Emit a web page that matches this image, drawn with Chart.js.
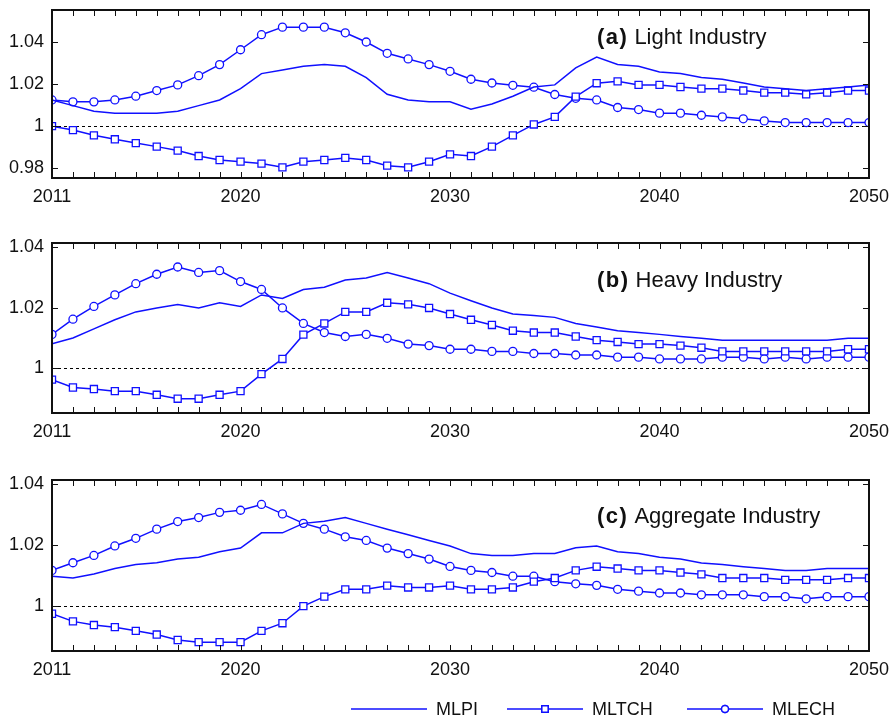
<!DOCTYPE html>
<html>
<head>
<meta charset="utf-8">
<title>MLPI / MLTCH / MLECH</title>
<script src="https://cdn.jsdelivr.net/npm/chart.js@4.4.1/dist/chart.umd.min.js"></script>
<style>
  body { margin: 0; background: #fff; }
  #wrap { position: relative; width: 896px; height: 721px; }
  canvas { position: absolute; left: 0; }
</style>
</head>
<body>
<div id="wrap">
  <canvas id="chartA" width="896" height="208" style="top:0px"></canvas>
  <canvas id="chartB" width="896" height="211" style="top:232px"></canvas>
  <canvas id="chartC" width="896" height="251" style="top:470px"></canvas>
</div>
<script>
var years = [2011, 2012, 2013, 2014, 2015, 2016, 2017, 2018, 2019, 2020,
             2021, 2022, 2023, 2024, 2025, 2026, 2027, 2028, 2029, 2030,
             2031, 2032, 2033, 2034, 2035, 2036, 2037, 2038, 2039, 2040,
             2041, 2042, 2043, 2044, 2045, 2046, 2047, 2048, 2049, 2050];
var xTickYears = [2011, 2020, 2030, 2040, 2050];
var yTicksLight = [0.98, 1, 1.02, 1.04];
var yTicksOther = [1, 1.02, 1.04];

// (a) Light Industry
var lightMLPI = [1.0125, 1.0098, 1.0071, 1.0062, 1.0062, 1.0062, 1.0071, 1.0098, 1.0125, 1.0179,
                 1.0251, 1.0268, 1.0286, 1.0295, 1.0286, 1.0232, 1.0152, 1.0125, 1.0116, 1.0116,
                 1.0081, 1.0106, 1.0143, 1.0187, 1.0197, 1.0278, 1.0330, 1.0295, 1.0286, 1.0259,
                 1.0251, 1.0232, 1.0224, 1.0206, 1.0187, 1.0179, 1.0170, 1.0179, 1.0187, 1.0197];
var lightMLTCH = [1.0000, 0.9981, 0.9956, 0.9937, 0.9919, 0.9902, 0.9883, 0.9857, 0.9838, 0.9830,
                  0.9821, 0.9803, 0.9830, 0.9838, 0.9848, 0.9838, 0.9811, 0.9803, 0.9830, 0.9865,
                  0.9857, 0.9902, 0.9956, 1.0008, 1.0044, 1.0141, 1.0205, 1.0214, 1.0197, 1.0197,
                  1.0187, 1.0179, 1.0179, 1.0170, 1.0160, 1.0160, 1.0152, 1.0160, 1.0170, 1.0170];
var lightMLECH = [1.0125, 1.0116, 1.0116, 1.0125, 1.0143, 1.0170, 1.0197, 1.0241, 1.0294, 1.0365,
                  1.0437, 1.0473, 1.0473, 1.0473, 1.0446, 1.0402, 1.0348, 1.0321, 1.0294, 1.0262,
                  1.0224, 1.0206, 1.0195, 1.0186, 1.0151, 1.0133, 1.0125, 1.0089, 1.0079, 1.0062,
                  1.0062, 1.0052, 1.0044, 1.0035, 1.0025, 1.0017, 1.0017, 1.0017, 1.0017, 1.0017];

// (b) Heavy Industry
var heavyMLPI = [1.0081, 1.0100, 1.0130, 1.0160, 1.0186, 1.0199, 1.0210, 1.0199, 1.0216, 1.0204,
                 1.0242, 1.0230, 1.0260, 1.0267, 1.0291, 1.0298, 1.0316, 1.0298, 1.0279, 1.0248,
                 1.0223, 1.0199, 1.0179, 1.0174, 1.0168, 1.0148, 1.0136, 1.0124, 1.0118, 1.0112,
                 1.0105, 1.0099, 1.0093, 1.0093, 1.0093, 1.0093, 1.0093, 1.0093, 1.0099, 1.0099];
var heavyMLTCH = [0.9963, 0.9937, 0.9932, 0.9925, 0.9925, 0.9913, 0.9900, 0.9900, 0.9913, 0.9925,
                  0.9981, 1.0031, 1.0111, 1.0148, 1.0186, 1.0186, 1.0216, 1.0211, 1.0199, 1.0179,
                  1.0160, 1.0143, 1.0124, 1.0118, 1.0118, 1.0105, 1.0093, 1.0087, 1.0080, 1.0080,
                  1.0075, 1.0068, 1.0056, 1.0056, 1.0056, 1.0056, 1.0056, 1.0056, 1.0063, 1.0063];
var heavyMLECH = [1.0112, 1.0162, 1.0204, 1.0242, 1.0279, 1.0310, 1.0334, 1.0316, 1.0322, 1.0286,
                  1.0260, 1.0199, 1.0148, 1.0118, 1.0105, 1.0112, 1.0099, 1.0080, 1.0075, 1.0063,
                  1.0063, 1.0056, 1.0056, 1.0049, 1.0049, 1.0044, 1.0044, 1.0037, 1.0037, 1.0031,
                  1.0031, 1.0031, 1.0037, 1.0037, 1.0031, 1.0037, 1.0031, 1.0037, 1.0037, 1.0037];

// (c) Aggregate Industry
var aggMLPI = [1.0098, 1.0092, 1.0105, 1.0123, 1.0136, 1.0142, 1.0154, 1.0160, 1.0178, 1.0190,
               1.0240, 1.0240, 1.0271, 1.0278, 1.0290, 1.0271, 1.0252, 1.0234, 1.0215, 1.0197,
               1.0172, 1.0166, 1.0166, 1.0172, 1.0172, 1.0191, 1.0197, 1.0178, 1.0172, 1.0160,
               1.0154, 1.0141, 1.0136, 1.0129, 1.0123, 1.0117, 1.0117, 1.0123, 1.0123, 1.0123];
var aggMLTCH = [0.9975, 0.9950, 0.9938, 0.9931, 0.9919, 0.9907, 0.9889, 0.9882, 0.9882, 0.9882,
                0.9919, 0.9944, 1.0000, 1.0031, 1.0055, 1.0055, 1.0067, 1.0061, 1.0061, 1.0067,
                1.0055, 1.0055, 1.0061, 1.0080, 1.0092, 1.0117, 1.0129, 1.0123, 1.0117, 1.0117,
                1.0110, 1.0104, 1.0092, 1.0092, 1.0092, 1.0086, 1.0086, 1.0086, 1.0092, 1.0092];
var aggMLECH = [1.0117, 1.0142, 1.0166, 1.0197, 1.0222, 1.0252, 1.0277, 1.0290, 1.0307, 1.0314,
                1.0333, 1.0302, 1.0271, 1.0252, 1.0227, 1.0215, 1.0190, 1.0172, 1.0154, 1.0130,
                1.0117, 1.0110, 1.0098, 1.0098, 1.0080, 1.0073, 1.0068, 1.0055, 1.0049, 1.0043,
                1.0043, 1.0037, 1.0037, 1.0037, 1.0031, 1.0031, 1.0024, 1.0031, 1.0031, 1.0031];

var seriesNames = ['MLPI', 'MLTCH', 'MLECH'];
var BLUE = '#1010ff';
var FONT = '"Liberation Sans", Arial, Helvetica, sans-serif';

function toPoints(vals) {
  var pts = [];
  for (var i in years) {
    pts.push({ x: years[i], y: vals[i] });
  }
  return pts;
}

// frame, inward ticks, dashed reference line, panel title, legend
var panelDecor = {
  id: 'panelDecor',
  beforeDatasetsDraw: function(chart) {
    var ctx = chart.ctx, a = chart.chartArea;
    var y1 = Math.round(chart.scales.y.getPixelForValue(1)) + 0.5;
    ctx.save();
    ctx.strokeStyle = '#000';
    ctx.lineWidth = 1;
    ctx.setLineDash([3, 3]);
    ctx.beginPath();
    ctx.moveTo(a.left, y1);
    ctx.lineTo(a.right, y1);
    ctx.stroke();
    ctx.restore();
  },
  afterDraw: function(chart, args, opts) {
    var ctx = chart.ctx, a = chart.chartArea;
    var xs = chart.scales.x, ys = chart.scales.y;
    ctx.save();
    ctx.strokeStyle = '#111';
    ctx.lineWidth = 1;
    ctx.beginPath();
    for (var i in years) {
      var px = Math.round(xs.getPixelForValue(years[i])) + 0.5;
      ctx.moveTo(px, a.bottom); ctx.lineTo(px, a.bottom - 6);
      ctx.moveTo(px, a.top); ctx.lineTo(px, a.top + 6);
    }
    ys.ticks.forEach(function(t) {
      var py = Math.round(ys.getPixelForValue(t.value)) + 0.5;
      ctx.moveTo(a.left, py); ctx.lineTo(a.left + 6, py);
      ctx.moveTo(a.right, py); ctx.lineTo(a.right - 6, py);
    });
    ctx.stroke();
    ctx.lineWidth = 2;
    ctx.strokeRect(a.left, a.top, a.right - a.left, a.bottom - a.top);

    // panel title: bold tag then plain text
    ctx.fillStyle = '#111';
    ctx.textBaseline = 'alphabetic';
    ctx.textAlign = 'left';
    ctx.font = 'bold 22px ' + FONT;
    ctx.letterSpacing = '1.5px';
    var tx = 597, ty = a.top + opts.titleOffset;
    ctx.fillText(opts.tag, tx, ty);
    var w = ctx.measureText(opts.tag).width;
    ctx.letterSpacing = '0px';
    ctx.font = '22px ' + FONT;
    ctx.fillText(opts.title, tx + w + 6, ty);

    // legend (bottom panel only)
    if (opts.legend) {
      var ly = opts.legendY;
      var items = [
        { x: 351, style: false },
        { x: 507, style: 'rect' },
        { x: 687, style: 'circle' }
      ];
      ctx.font = '18px ' + FONT;
      ctx.textBaseline = 'middle';
      items.forEach(function(it, k) {
        ctx.strokeStyle = BLUE;
        ctx.lineWidth = 1.5;
        ctx.beginPath();
        ctx.moveTo(it.x, ly); ctx.lineTo(it.x + 76, ly);
        ctx.stroke();
        if (it.style) {
          ctx.fillStyle = '#fff';
          Chart.helpers.drawPoint(ctx, { pointStyle: it.style, radius: it.style === 'rect' ? 4.5 : 3.5, borderWidth: 1.5 }, it.x + 38, ly);
          ctx.fill();
          ctx.stroke();
        }
        ctx.fillStyle = '#111';
        ctx.fillText(seriesNames[k], it.x + 85, ly + 1);
      });
    }
    ctx.restore();
  }
};

function makePanel(id, vals, yMin, yMax, yTicks, tag, title, titleOffset, pad, legend) {
  var datasets = [
    { label: seriesNames[0], data: toPoints(vals[0]), pointRadius: 0 },
    { label: seriesNames[1], data: toPoints(vals[1]), pointStyle: 'rect', pointRadius: 5 },
    { label: seriesNames[2], data: toPoints(vals[2]), pointStyle: 'circle', pointRadius: 4 }
  ];
  datasets.forEach(function(d) {
    d.borderColor = BLUE;
    d.backgroundColor = '#fff';
    d.borderWidth = 1.5;
    d.pointBorderWidth = 1.3;
    d.pointBorderColor = BLUE;
    d.pointBackgroundColor = '#fff';
    d.tension = 0;
  });

  return new Chart(document.getElementById(id), {
    type: 'line',
    data: { datasets: datasets },
    options: {
      responsive: false,
      animation: false,
      devicePixelRatio: 1,
      layout: { padding: pad },
      plugins: {
        legend: { display: false },
        tooltip: { enabled: false },
        panelDecor: { tag: tag, title: title, titleOffset: titleOffset, legend: legend, legendY: 239 }
      },
      scales: {
        x: {
          type: 'linear',
          min: 2011,
          max: 2050,
          afterBuildTicks: function(scale) {
            scale.ticks = xTickYears.map(function(v) { return { value: v }; });
          },
          afterFit: function(scale) {
            scale.height = 30;
            scale.paddingLeft = 0;
            scale.paddingRight = 0;
          },
          grid: { display: false, drawTicks: false },
          border: { display: false },
          ticks: {
            padding: 8,
            color: '#111',
            font: { family: FONT, size: 18 },
            maxRotation: 0,
            autoSkip: false,
            callback: function(v) { return String(v); }
          }
        },
        y: {
          min: yMin,
          max: yMax,
          afterBuildTicks: function(scale) {
            scale.ticks = yTicks.map(function(v) { return { value: v }; });
          },
          afterFit: function(scale) {
            scale.width = 52;
            scale.paddingTop = 0;
            scale.paddingBottom = 0;
          },
          grid: { display: false, drawTicks: false },
          border: { display: false },
          ticks: {
            padding: 8,
            color: '#111',
            font: { family: FONT, size: 18 },
            callback: function(v) { return v === 1 ? '1' : v.toFixed(2); }
          }
        }
      }
    },
    plugins: [panelDecor]
  });
}

makePanel('chartA', [lightMLPI, lightMLTCH, lightMLECH], 0.9752, 1.0555, yTicksLight,
  '(a)', 'Light Industry', 34, { top: 10, right: 27, left: 0, bottom: 0 }, false);
makePanel('chartB', [heavyMLPI, heavyMLTCH, heavyMLECH], 0.9853, 1.0413, yTicksOther,
  '(b)', 'Heavy Industry', 44, { top: 11, right: 27, left: 0, bottom: 0 }, false);
makePanel('chartC', [aggMLPI, aggMLTCH, aggMLECH], 0.9853, 1.0413, yTicksOther,
  '(c)', 'Aggregate Industry', 43, { top: 10, right: 27, left: 0, bottom: 40 }, true);
</script>
</body>
</html>
